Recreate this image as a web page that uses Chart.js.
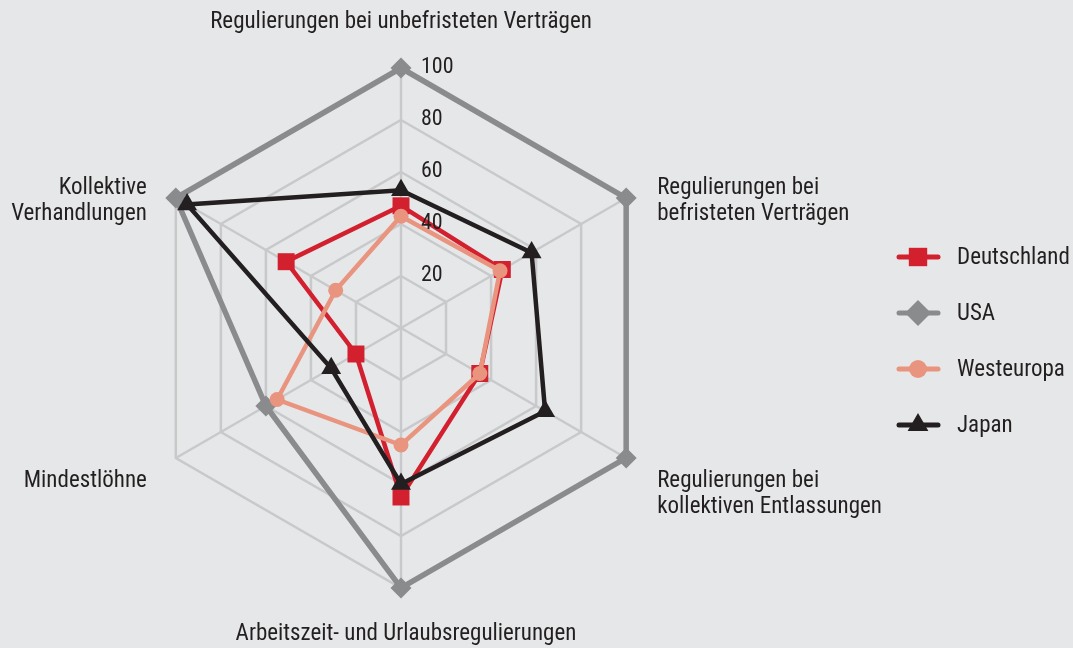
<!DOCTYPE html>
<html lang="de">
<head>
    <meta charset="UTF-8">
    <title>Arbeitsmarktregulierung im Vergleich</title>
    <script src="https://cdn.jsdelivr.net/npm/chart.js"></script>
    <style>
        body {
            margin: 0;
            background-color: #e6e7e8;
        }
        canvas {
            display: block;
        }
    </style>
</head>
<body>
    <canvas id="radarChart" width="1073" height="648"></canvas>
    <script>
        // Achsen (Uhrzeigersinn, oben beginnend)
        const categories = [
            'Regulierungen bei unbefristeten Verträgen',
            ['Regulierungen bei', 'befristeten Verträgen'],
            ['Regulierungen bei', 'kollektiven Entlassungen'],
            'Arbeitszeit- und Urlaubsregulierungen',
            'Mindestlöhne',
            ['Kollektive', 'Verhandlungen']
        ];
        const deutschland = [47, 45, 35, 65, 20, 51];
        const usa = [100, 100, 100, 100, 60, 100];
        const westeuropa = [43, 44, 35, 45, 55, 29];
        const japan = [53, 58, 64, 60, 31, 95];
        const tickValues = [20, 40, 60, 80, 100];

        const FONT = '"Roboto Condensed", "DejaVu Sans Condensed", sans-serif';
        const TEXT = '#231f20';

        function series(label, data, color, style, radius, width, order) {
            return {
                label: label,
                data: data,
                borderColor: color,
                backgroundColor: color,
                borderWidth: width,
                pointStyle: style,
                pointRadius: radius,
                pointHoverRadius: radius,
                pointBackgroundColor: color,
                pointBorderColor: color,
                pointBorderWidth: 0,
                fill: false,
                tension: 0,
                order: order
            };
        }

        // Achsenbeschriftungen und Skalenwerte selbst zeichnen
        const axisText = {
            id: 'axisText',
            afterDatasetsDraw(chart) {
                const ctx = chart.ctx;
                const scale = chart.scales.r;
                ctx.save();
                ctx.fillStyle = TEXT;
                ctx.font = '23px ' + FONT;

                chart.data.labels.forEach((label, i) => {
                    const lines = Array.isArray(label) ? label : [label];
                    const p = scale.getPointPosition(i, scale.drawingArea);
                    let x = p.x, y;
                    if (Math.abs(p.x - scale.xCenter) < 2) {
                        ctx.textAlign = 'center';
                        y = p.y < scale.yCenter ? p.y - 40 : p.y + 52;
                        if (p.y > scale.yCenter) x += 5;
                    } else {
                        ctx.textAlign = p.x > scale.xCenter ? 'left' : 'right';
                        x += p.x > scale.xCenter ? 31 : -29;
                        y = p.y < scale.yCenter ? p.y - 4 : p.y + 29;
                    }
                    ctx.textBaseline = 'alphabetic';
                    lines.forEach((line, k) => ctx.fillText(line, x, y + k * 26));
                });

                ctx.textAlign = 'left';
                ctx.textBaseline = 'middle';
                ctx.font = '22px ' + FONT;
                scale.ticks.forEach(t => {
                    if (!tickValues.includes(t.value)) return;
                    const d = scale.getDistanceFromCenterForValue(t.value);
                    ctx.fillText(String(t.value), scale.xCenter + 20, scale.yCenter - d - 1);
                });
                ctx.restore();
            }
        };

        // Legende rechts: Linie mit Marker
        const sideLegend = {
            id: 'sideLegend',
            afterDraw(chart) {
                const ctx = chart.ctx;
                const helpers = Chart.helpers;
                const legendRadius = { rect: 13, rectRot: 13, circle: 9, triangle: 12 };
                ctx.save();
                chart.data.datasets.forEach((ds, i) => {
                    const y = 257 + i * 56;
                    ctx.strokeStyle = ds.borderColor;
                    ctx.lineWidth = 5;
                    ctx.lineCap = 'round';
                    ctx.beginPath();
                    ctx.moveTo(899, y);
                    ctx.lineTo(938, y);
                    ctx.stroke();
                    ctx.fillStyle = ds.backgroundColor;
                    helpers.drawPoint(ctx, {
                        pointStyle: ds.pointStyle,
                        radius: legendRadius[ds.pointStyle],
                        rotation: 0,
                        borderWidth: 0
                    }, 918, y);
                    ctx.fillStyle = TEXT;
                    ctx.font = '23px ' + FONT;
                    ctx.textAlign = 'left';
                    ctx.textBaseline = 'middle';
                    ctx.fillText(ds.label, 957, y + 1);
                });
                ctx.restore();
            }
        };

        const ctx = document.getElementById('radarChart').getContext('2d');
        new Chart(ctx, {
            type: 'radar',
            data: {
                labels: categories,
                datasets: [
                    series('Deutschland', deutschland, '#d2202f', 'rect', 12, 4.5, 2),
                    series('USA', usa, '#8a8b8d', 'rectRot', 10.5, 5.5, 3),
                    series('Westeuropa', westeuropa, '#e9947f', 'circle', 7.5, 4.5, 1),
                    series('Japan', japan, '#231f20', 'triangle', 11.5, 4.5, 0)
                ]
            },
            options: {
                responsive: false,
                animation: false,
                layout: {
                    padding: { left: 141, right: 412, top: 68, bottom: 60 }
                },
                scales: {
                    r: {
                        min: 0,
                        max: 100,
                        ticks: {
                            stepSize: 20,
                            display: false
                        },
                        pointLabels: {
                            display: false
                        },
                        grid: {
                            color: '#c8c9cb',
                            lineWidth: 2.5
                        },
                        angleLines: {
                            color: '#c8c9cb',
                            lineWidth: 2.5
                        }
                    }
                },
                plugins: {
                    legend: { display: false },
                    tooltip: { enabled: false }
                }
            },
            plugins: [axisText, sideLegend]
        });
    </script>
</body>
</html>
